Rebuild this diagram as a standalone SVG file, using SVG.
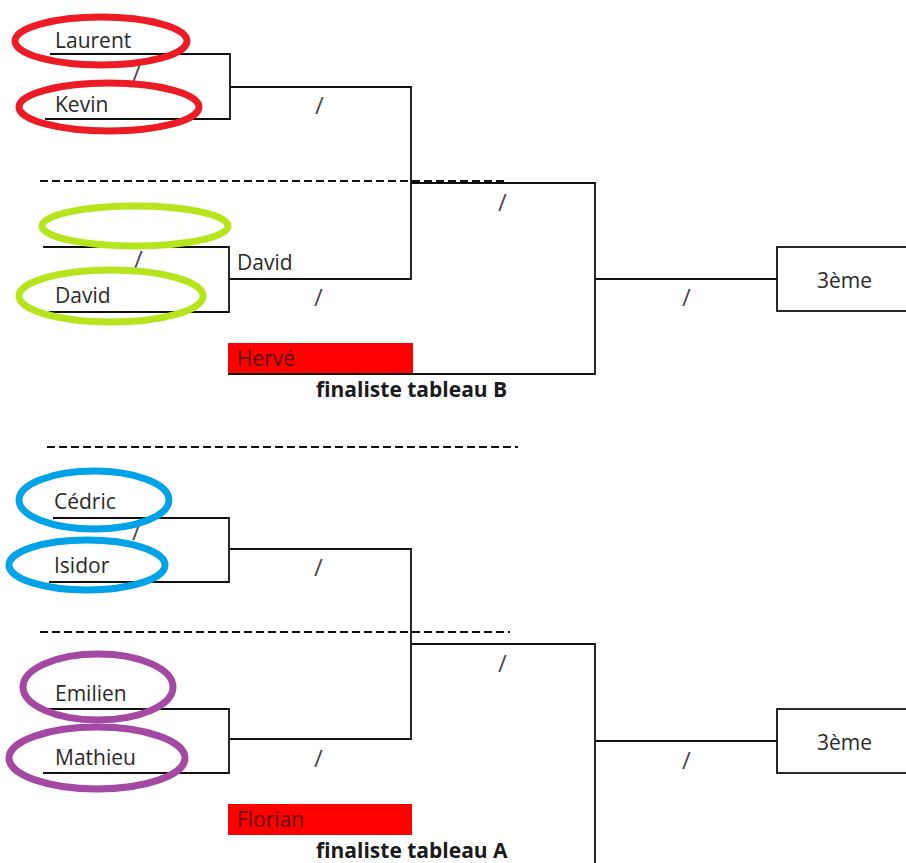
<svg xmlns="http://www.w3.org/2000/svg" width="906" height="863" viewBox="0 0 906 863">
<style>
text{font-family:"Open Sans","Noto Sans","Liberation Sans",sans-serif;font-size:21px;fill:#2a2a2a}
.ln{fill:none;stroke:#111;stroke-width:1.8}
.dash{fill:none;stroke:#111;stroke-width:2;stroke-dasharray:8 4}
.el{fill:none;stroke-width:7}
.red{stroke:#ED1C24}.grn{stroke:#B5E61D}.blu{stroke:#00A2E8}.pur{stroke:#A349A4}
.sl{font-size:24px;fill:#4a4a4a}
.bold{font-weight:bold;fill:#1a1a1a}
.fin{fill:#5c0000}
.box{fill:#fff;stroke:#111;stroke-width:1.8}
</style>
<rect width="906" height="863" fill="#fff"/>
<g id="separators">
<line class="dash" x1="40" y1="181" x2="508" y2="181"/>
<line class="dash" x1="47" y1="447" x2="518" y2="447"/>
<line class="dash" x1="40" y1="632" x2="510" y2="632"/>
</g>
<g id="connectors">
<path class="ln" d="M50,54 H230 V119 H45"/>
<path class="ln" d="M230,87 H411 V279 H229"/>
<path class="ln" d="M43,247 H229 V312 H49"/>
<path class="ln" d="M411,183 H595 V374 H413"/>
<path class="ln" d="M595,279 H777"/>
<path class="ln" d="M53,518 H229 V582 H49"/>
<path class="ln" d="M229,549 H411 V739 H229"/>
<path class="ln" d="M45,709 H229 V773 H43"/>
<path class="ln" d="M411,644 H595 V863"/>
<path class="ln" d="M595,741 H777"/>
<text class="sl" x="132" y="82">/</text>
<text class="sl" x="315" y="114">/</text>
<text class="sl" x="134" y="268">/</text>
<text class="sl" x="314" y="306">/</text>
<text class="sl" x="498" y="211">/</text>
<text class="sl" x="682" y="306">/</text>
<text class="sl" x="132" y="540">/</text>
<text class="sl" x="314" y="576">/</text>
<text class="sl" x="498" y="672">/</text>
<text class="sl" x="314" y="767">/</text>
<text class="sl" x="682" y="769">/</text>
<text x="237" y="270">David</text>
</g>
<g id="laurent"><ellipse class="el red" cx="101" cy="41" rx="86" ry="24"/><text x="55" y="48">Laurent</text></g>
<g id="kevin"><ellipse class="el red" cx="109" cy="107" rx="90" ry="24"/><text x="55" y="112">Kevin</text></g>
<g id="empty-green"><ellipse class="el grn" cx="135" cy="226" rx="93" ry="20"/></g>
<g id="david"><ellipse class="el grn" cx="111" cy="296" rx="92" ry="26"/><text x="55" y="303">David</text></g>
<g id="herve"><rect x="228" y="343" width="185" height="31" fill="#FF0000"/><line class="ln" x1="228" y1="374" x2="413" y2="374"/><text class="fin" x="237" y="366">Hervé</text></g>
<g id="finaliste-b"><text class="bold" x="316" y="397">finaliste tableau B</text></g>
<g id="third-b"><rect class="box" x="777" y="247" width="140" height="64"/><text x="817" y="288">3ème</text></g>
<g id="cedric"><ellipse class="el blu" cx="94" cy="500" rx="75" ry="29"/><text x="54" y="509">Cédric</text></g>
<g id="isidor"><ellipse class="el blu" cx="87" cy="565" rx="78" ry="25"/><text x="54" y="573">Isidor</text></g>
<g id="emilien"><ellipse class="el pur" cx="98" cy="687" rx="75" ry="33"/><text x="55" y="701">Emilien</text></g>
<g id="mathieu"><ellipse class="el pur" cx="97" cy="758" rx="88" ry="31"/><text x="55" y="765">Mathieu</text></g>
<g id="florian"><rect x="228" y="804" width="184" height="31" fill="#FF0000"/><text class="fin" x="237" y="827">Florian</text></g>
<g id="finaliste-a"><text class="bold" x="316" y="858">finaliste tableau A</text></g>
<g id="third-a"><rect class="box" x="777" y="709" width="140" height="64"/><text x="817" y="750">3ème</text></g>
</svg>
